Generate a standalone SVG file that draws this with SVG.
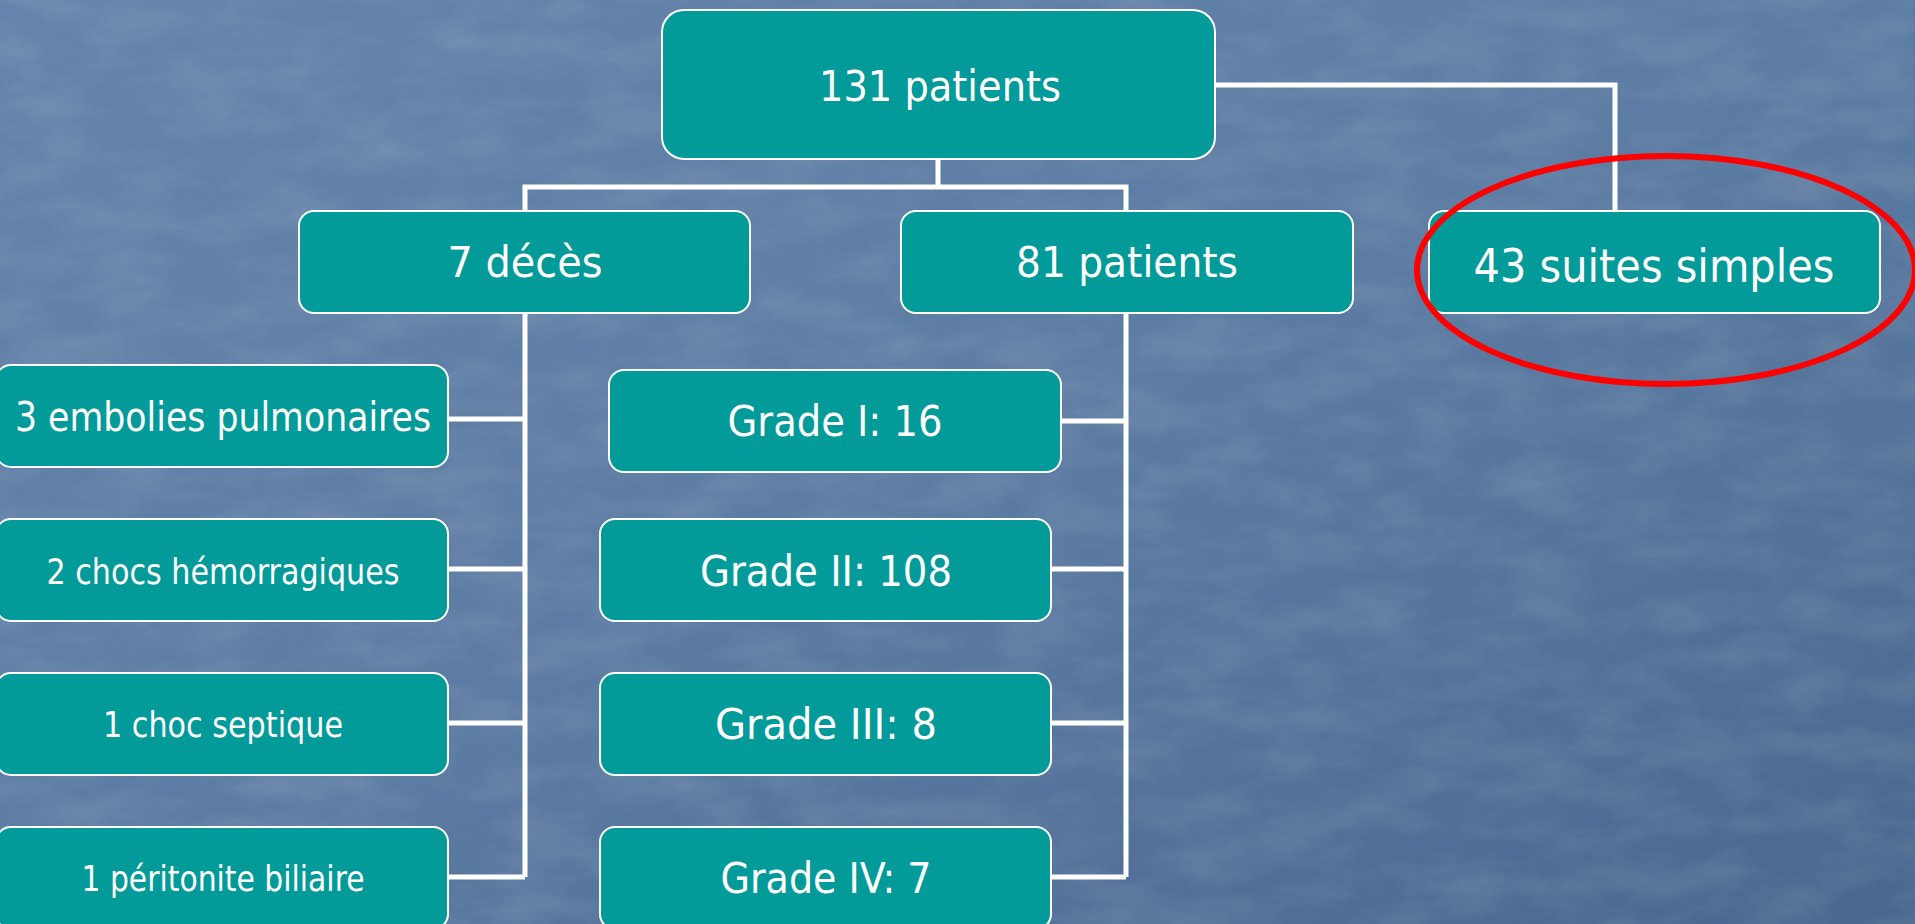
<svg xmlns="http://www.w3.org/2000/svg" width="1915" height="924" viewBox="0 0 1915 924">
<defs>
<linearGradient id="bg" x1="0" y1="0" x2="1" y2="1">
<stop offset="0" stop-color="#6584ab"/>
<stop offset="0.5" stop-color="#5d7ca3"/>
<stop offset="1" stop-color="#4a688f"/>
</linearGradient>
<filter id="tex" x="0" y="0" width="100%" height="100%">
<feTurbulence type="fractalNoise" baseFrequency="0.012 0.03" numOctaves="4" seed="7"/>
<feColorMatrix type="matrix" values="0 0 0 0 1  0 0 0 0 1  0 0 0 0 1  0 0 0 0.35 -0.12"/>
</filter>
<style>
.node rect{fill:#039a9a;stroke:#ffffff;stroke-width:2}
.node text{fill:#ffffff;font-family:"DejaVu Sans Condensed","DejaVu Sans",sans-serif;font-stretch:condensed;text-anchor:middle}
.big{font-size:42px}
.huge{font-size:47px}
.mid{font-size:40px}
.small{font-size:35px}
#connectors path{fill:none;stroke:#ffffff;stroke-width:5}
</style>
</defs>
<rect width="1915" height="924" fill="url(#bg)"/>
<rect width="1915" height="924" filter="url(#tex)" opacity="0.5"/>
<g id="connectors">
<path d="M938 159V187M525 211V187H1126V211"/>
<path d="M1215 85H1615V211"/>
<path d="M525 313V877M448 419H525M448 569H525M448 723H525M448 877H525"/>
<path d="M1126 313V877M1061 421H1126M1050 569H1126M1050 723H1126M1050 877H1126"/>
</g>
<g id="n131" class="node"><rect x="662" y="10" width="553" height="149" rx="22"/><text class="big" x="940" y="101" textLength="242" lengthAdjust="spacingAndGlyphs">131 patients</text></g>
<g id="n7" class="node"><rect x="299" y="211" width="451" height="102" rx="15"/><text class="big" x="525" y="277" textLength="155" lengthAdjust="spacingAndGlyphs">7 décès</text></g>
<g id="n81" class="node"><rect x="901" y="211" width="452" height="102" rx="15"/><text class="big" x="1127" y="277" textLength="222" lengthAdjust="spacingAndGlyphs">81 patients</text></g>
<g id="n43" class="node"><rect x="1429" y="211" width="451" height="102" rx="15"/><text class="huge" x="1654" y="282" textLength="361" lengthAdjust="spacingAndGlyphs">43 suites simples</text></g>
<g id="emb" class="node"><rect x="-4" y="365" width="452" height="102" rx="15"/><text class="mid" x="223" y="431" textLength="416" lengthAdjust="spacingAndGlyphs">3 embolies pulmonaires</text></g>
<g id="hem" class="node"><rect x="-4" y="519" width="452" height="102" rx="15"/><text class="small" x="223" y="584" textLength="353" lengthAdjust="spacingAndGlyphs">2 chocs hémorragiques</text></g>
<g id="sep" class="node"><rect x="-4" y="673" width="452" height="102" rx="15"/><text class="small" x="223" y="737" textLength="240" lengthAdjust="spacingAndGlyphs">1 choc septique</text></g>
<g id="per" class="node"><rect x="-4" y="827" width="452" height="102" rx="15"/><text class="small" x="223" y="891" textLength="283" lengthAdjust="spacingAndGlyphs">1 péritonite biliaire</text></g>
<g id="g1" class="node"><rect x="609" y="370" width="452" height="102" rx="15"/><text class="big" x="835" y="436" textLength="215" lengthAdjust="spacingAndGlyphs">Grade I: 16</text></g>
<g id="g2" class="node"><rect x="600" y="519" width="451" height="102" rx="15"/><text class="big" x="826" y="586" textLength="252" lengthAdjust="spacingAndGlyphs">Grade II: 108</text></g>
<g id="g3" class="node"><rect x="600" y="673" width="451" height="102" rx="15"/><text class="big" x="826" y="739" textLength="222" lengthAdjust="spacingAndGlyphs">Grade III: 8</text></g>
<g id="g4" class="node"><rect x="600" y="827" width="451" height="102" rx="15"/><text class="big" x="826" y="893" textLength="211" lengthAdjust="spacingAndGlyphs">Grade IV: 7</text></g>
<ellipse id="highlight" cx="1666" cy="270" rx="249" ry="114" fill="none" stroke="#ff0000" stroke-width="6"/>
</svg>
